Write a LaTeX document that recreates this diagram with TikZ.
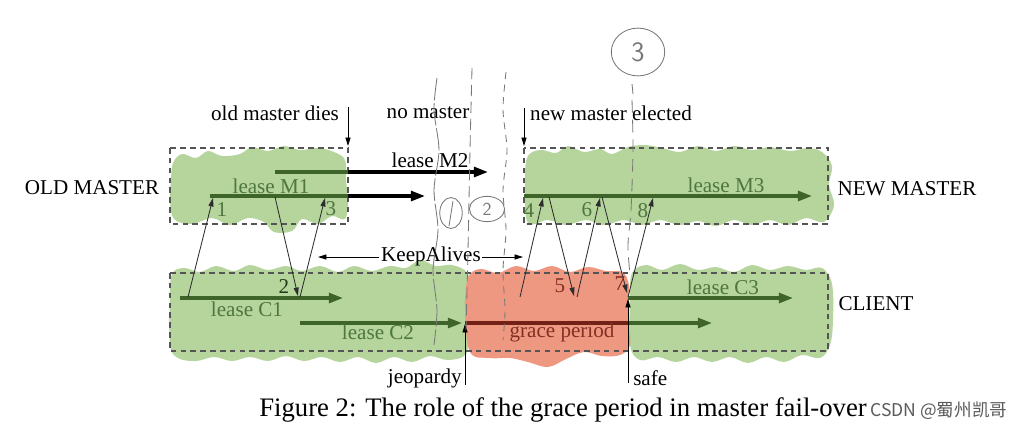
\documentclass[tikz,border=0pt]{standalone}
\usepackage{fontspec}
\setmainfont{Liberation Serif}
\newfontfamily\cjk{Noto Sans CJK SC}
\usetikzlibrary{arrows.meta,shapes.geometric}
\definecolor{blobgreen}{RGB}{181,213,157}
\definecolor{blobred}{RGB}{238,152,130}
\definecolor{leasegreen}{RGB}{62,100,42}
\definecolor{txtgreen}{RGB}{78,118,62}
\definecolor{txtred}{RGB}{130,48,36}
\definecolor{linered}{RGB}{115,32,22}
\definecolor{boxgray}{RGB}{85,85,85}
\definecolor{handgray}{RGB}{120,120,120}
\definecolor{msgcol}{RGB}{45,45,45}
\definecolor{wmgray}{RGB}{90,90,90}
\tikzset{
  lease/.style={line width=2.2pt, draw=leasegreen},
  leasearrow/.style={lease, -{Triangle[length=10pt,width=7pt]}},
  redlease/.style={line width=2.2pt, draw=linered},
  blackarrow/.style={line width=2.2pt, draw=black, -{Triangle[length=10pt,width=7pt]}},
  msg/.style={line width=0.6pt, draw=msgcol, -{Triangle[length=6pt,width=3.6pt]}},
  thinarrow/.style={line width=0.6pt, draw=black, -{Triangle[length=6pt,width=3.6pt]}},
  plainline/.style={line width=0.6pt, draw=black},
  boxstyle/.style={draw=boxgray, dash pattern=on 4pt off 3pt, line width=0.8pt},
  lbl/.style={inner sep=0pt},
  greenlbl/.style={inner sep=0pt, text=txtgreen},
  redlbl/.style={inner sep=0pt, text=txtred},
  hand/.style={draw=handgray, line width=0.6pt},
  handcirc/.style={draw=handgray, line width=0.6pt, ellipse, inner sep=0pt, text=handgray, font=\sffamily\fontsize{13}{13}\selectfont},
}
\begin{document}
\begin{tikzpicture}[x=0.25mm,y=-0.25mm, font=\fontsize{15}{18}\selectfont]
\useasboundingbox (0,0) rectangle (1024,430);
\fill[white] (0,0) rectangle (1024,430);

% ---------- blobs ----------
\fill[blobgreen] plot[smooth cycle, tension=0.6] coordinates {(173,163) (182,154) (196,158) (208,151) (222,156) (240,154) (252,147) (268,151) (284,146) (300,150) (318,148) (334,152) (345,160) (346,180) (348,200) (345,219) (332,216) (318,224) (302,219) (292,231) (274,232) (264,222) (248,218) (230,225) (212,218) (192,224) (174,219) (170,200) (171,180)};
\fill[blobgreen] plot[smooth cycle, tension=0.6] coordinates {(527,158) (540,150) (556,153) (568,146) (584,152) (600,149) (612,154) (628,147) (645,145) (662,148) (680,152) (698,146) (716,151) (734,146) (752,150) (770,147) (790,151) (808,148) (822,152) (832,166) (829,185) (834,205) (824,222) (806,218) (788,225) (770,220) (752,225) (734,220) (716,226) (698,221) (680,225) (660,220) (642,225) (624,220) (604,225) (586,220) (566,225) (548,220) (528,223) (525,190)};
\fill[blobgreen] plot[smooth cycle, tension=0.6] coordinates {(172,274) (184,268) (200,272) (216,266) (234,271) (250,265) (268,270) (286,266) (302,271) (320,266) (338,272) (354,266) (372,271) (390,266) (406,268) (420,260) (436,266) (452,265) (468,274) (470,300) (468,330) (466,354) (448,360) (430,356) (412,362) (394,357) (376,363) (358,357) (340,362) (322,357) (304,361) (286,356) (268,361) (250,357) (232,361) (214,357) (196,361) (178,358) (170,345) (170,300)};
\fill[blobgreen] plot[smooth cycle, tension=0.6] coordinates {(632,273) (646,265) (662,270) (680,264) (698,270) (716,267) (734,272) (752,265) (770,270) (788,266) (806,270) (822,268) (832,284) (833,320) (830,345) (820,358) (802,355) (784,362) (766,357) (748,363) (730,357) (712,362) (694,357) (676,362) (658,357) (640,360) (630,345) (630,300)};
\fill[blobred] plot[smooth cycle, tension=0.6] coordinates {(468,278) (480,269) (498,273) (516,266) (534,271) (552,266) (570,272) (588,267) (606,271) (622,272) (629,286) (628,320) (630,345) (620,355) (602,356) (584,352) (566,359) (548,367) (528,362) (510,358) (490,358) (470,352) (465,310)};

% ---------- dashed boxes ----------
\draw[boxstyle] (170,148) rectangle (348,224);
\draw[boxstyle] (524,148) rectangle (828,224);
\draw[boxstyle] (170,273) rectangle (828,351);

% ---------- coordinates ----------
\coordinate (m1s) at (210,196); \coordinate (m1b) at (348,196); \coordinate (m1e) at (425,196);
\coordinate (m2s) at (275,172); \coordinate (m2b) at (348,172); \coordinate (m2e) at (488,172);
\coordinate (m3s) at (524,196); \coordinate (m3e) at (812,196);
\coordinate (c1s) at (180,298); \coordinate (c1e) at (343,298);
\coordinate (c2s) at (300,323); \coordinate (c2e) at (462,323);
\coordinate (gps) at (465,323); \coordinate (gpb) at (628,323); \coordinate (gpe) at (712,323);
\coordinate (c3s) at (628,298); \coordinate (c3e) at (793,298);

% ---------- leases ----------
\draw[blackarrow] (m1b) -- (m1e);
\draw[lease] (m1s) -- (m1b);
\draw[blackarrow] (m2b) -- (m2e);
\draw[lease] (m2s) -- (m2b);
\draw[leasearrow] (m3s) -- (m3e);
\draw[leasearrow] (c1s) -- (c1e);
\draw[leasearrow] (c2s) -- (c2e);
\draw[leasearrow] (gpb) -- (gpe);
\draw[redlease] (gps) -- (gpb);
\draw[leasearrow] (c3s) -- (c3e);

\node[greenlbl] (lm1) at (271,186) {lease M1};
\node[lbl] (lm2) at (430,160) {lease M2};
\node[greenlbl] (lm3) at (726,185) {lease M3};
\node[greenlbl] (lc1) at (247,309) {lease C1};
\node[greenlbl] (lc2) at (378,332) {lease C2};
\node[redlbl] (lgp) at (562,332) {grace period};
\node[greenlbl] (lc3) at (723,287) {lease C3};

% ---------- messages ----------
\coordinate (a1s) at (188,297); \coordinate (a1e) at (213,198);
\coordinate (a2s) at (275,197); \coordinate (a2e) at (298,296);
\coordinate (a3s) at (300,297); \coordinate (a3e) at (325,198);
\coordinate (a4s) at (520,297); \coordinate (a4e) at (543,198);
\coordinate (a5s) at (549,197); \coordinate (a5e) at (574,296);
\coordinate (a6s) at (577,297); \coordinate (a6e) at (600,198);
\coordinate (a7s) at (602,197); \coordinate (a7e) at (627,293);
\coordinate (a8s) at (628,297); \coordinate (a8e) at (653,198);
\foreach \i in {1,...,8} { \draw[msg] (a\i s) -- (a\i e); }

\node[greenlbl] (n1) at (222,210) {1};
\node[lbl, text=leasegreen!60!black] (n2) at (284,287) {2};
\node[greenlbl] (n3) at (331,209) {3};
\node[greenlbl] (n4) at (529,211) {4};
\node[redlbl] (n5) at (560,286) {5};
\node[greenlbl] (n6) at (587,210) {6};
\node[redlbl] (n7) at (620,284) {7};
\node[greenlbl] (n8) at (643,211) {8};

% ---------- top labels ----------
\node[lbl] (omd) at (275,113) {old master dies};
\node[lbl] (nom) at (428,113) {no master};
\node[lbl] (nme) at (611,113) {new master elected};
\coordinate (omdt) at (348,107); \coordinate (omdb) at (348,146);
\coordinate (nmet) at (524,108); \coordinate (nmeb) at (524,146);
\draw[thinarrow] (omdt) -- (omdb);
\draw[thinarrow] (nmet) -- (nmeb);

\node[lbl] (old) at (92,188) {OLD MASTER};
\node[lbl] (new) at (907,189) {NEW MASTER};
\node[lbl] (cli) at (876,304) {CLIENT};

% ---------- KeepAlives ----------
\node[lbl] (ka) at (431,256) {KeepAlives};
\coordinate (kal) at (318,257); \coordinate (kar) at (523,257);
\draw[thinarrow] (ka.west) ++(-2,1) -- (kal);
\draw[thinarrow] (ka.east) ++(1,1) -- (kar);

% ---------- jeopardy / safe ----------
\node[lbl, anchor=east] (jeo) at (462,378) {jeopardy};
\node[lbl, anchor=west] (safe) at (633,378) {safe};
\coordinate (jb) at (465,385); \coordinate (jt) at (465,324);
\coordinate (sb) at (628,383); \coordinate (st) at (628,299);
\draw[thinarrow] (jb) -- (jt);
\draw[thinarrow] (sb) -- (st);

% ---------- handwritten marks ----------
\draw[hand, dash pattern=on 16pt off 2pt] plot[smooth] coordinates {(437,78) (434,110) (439,150) (434,190) (438,230) (433,270) (437,310) (434,345)};
\draw[hand, dash pattern=on 8pt off 4pt] plot[smooth] coordinates {(472,68) (470,150) (468,250) (466,330)};
\draw[hand, dash pattern=on 5pt off 4pt] plot[smooth] coordinates {(506,72) (503,110) (507,150) (503,190) (506,230) (503,270) (505,310) (503,340)};
\draw[hand, dash pattern=on 9pt off 5pt] plot[smooth] coordinates {(632,100) (633,150) (631,210) (628,245) (630,275)};
\coordinate (h3a) at (632,84); \coordinate (h3b) at (633,94);
\draw[hand] (h3a) -- (h3b);
\node[handcirc, minimum width=16, minimum height=22] (hc1) at (451,213) {};
\coordinate (hc1t) at (453,201); \coordinate (hc1b) at (449,226);
\draw[hand] (hc1t) -- (hc1b);
\node[handcirc, minimum width=25, minimum height=18] (hc2) at (487,209) {2};
\node[handcirc, minimum width=38, minimum height=34, font=\sffamily\fontsize{20}{20}\selectfont] (hc3) at (638,52) {3};

% ---------- caption ----------
\node[lbl] (cap) at (563,410) {\fontsize{19}{22}\selectfont Figure 2: The role of the grace period in master fail-over};
\node[lbl, anchor=west, text=wmgray] (wm) at (870,411) {\cjk\fontsize{12.5}{14}\selectfont CSDN @蜀州凯哥};
\end{tikzpicture}
\end{document}
